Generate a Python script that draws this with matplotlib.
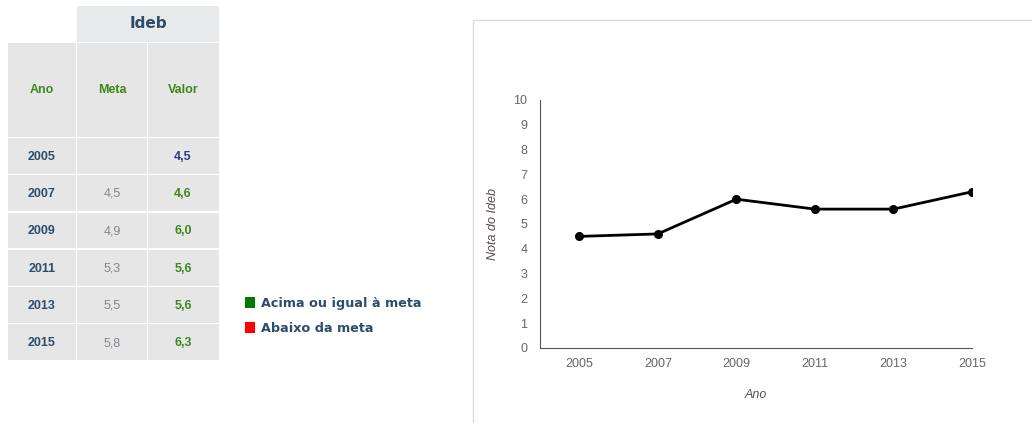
import matplotlib
matplotlib.use("Agg")
import matplotlib.pyplot as plt
from matplotlib.patches import Rectangle

plt.rcParams["font.family"] = ["Liberation Sans", "DejaVu Sans"]

# data
anos = [2005, 2007, 2009, 2011, 2013, 2015]
meta = [None, 4.5, 4.9, 5.3, 5.5, 5.8]
valor = [4.5, 4.6, 6.0, 5.6, 5.6, 6.3]
legenda = ["Acima ou igual à meta", "Abaixo da meta"]

def fmt(v):
    return "" if v is None else f"{v:.1f}".replace(".", ",")

fig = plt.figure(figsize=(10.32, 4.23), dpi=100)
fig.patch.set_facecolor("white")

# pixel canvas for the table / legend / frame
bg = fig.add_axes([0, 0, 1, 1])
bg.set_xlim(0, 1032)
bg.set_ylim(423, 0)
bg.axis("off")

cell = "#e6e6e6"
blue = "#2d4d6d"
green = "#3c8a1c"

# table
cols = [(8, 76), (77, 147), (148, 219)]
bg.add_patch(Rectangle((77, 6), 142, 36, color="#e8e9eb", lw=0))
bg.text(148, 24, "Ideb", ha="center", va="center", fontsize=11, weight="bold",
        color=blue, family="DejaVu Sans")
for (x0, x1), lab in zip(cols, ["Ano", "Meta", "Valor"]):
    bg.add_patch(Rectangle((x0, 43), x1 - x0, 94, color=cell, lw=0))
    bg.text((x0 + x1) / 2, 90, lab, ha="center", va="center", fontsize=9, weight="bold", color=green)

row_h = 37.3
for i, (a, m, v) in enumerate(zip(anos, meta, valor)):
    y0 = 138 + i * row_h
    for x0, x1 in cols:
        bg.add_patch(Rectangle((x0, y0), x1 - x0, row_h - 1.5, color=cell, lw=0))
    yc = y0 + row_h / 2
    bg.text(42, yc, str(a), ha="center", va="center", fontsize=9, weight="bold", color=blue)
    bg.text(112, yc, fmt(m), ha="center", va="center", fontsize=9, color="#7d8790")
    vcol = "#2a3f8a" if m is None else (green if v >= m else "red")
    bg.text(183, yc, fmt(v), ha="center", va="center", fontsize=9, weight="bold", color=vcol)

# legend
for j, (lab, c) in enumerate(zip(legenda, ["#007a00", "#ff0000"])):
    y = 303 + j * 25
    bg.add_patch(Rectangle((245, y - 5.5), 10, 11, color=c, lw=0))
    bg.text(261, y, lab, ha="left", va="center", fontsize=9.2, weight="bold",
            color=blue, family="DejaVu Sans")

# chart frame
bg.plot([473, 473, 1032], [423, 20, 20], color="#dcdcdc", lw=1)

# line chart
ax = fig.add_axes([540 / 1032, 1 - 348 / 423, 432 / 1032, 248 / 423])
ax.plot(anos, valor, color="black", lw=2, marker="o", ms=5.5)
ax.set_xlim(2004, 2015)
ax.set_ylim(0, 10)
ax.set_xticks(anos)
ax.set_yticks(range(0, 11))
ax.spines["top"].set_visible(False)
ax.spines["right"].set_visible(False)
ax.spines["left"].set_color("#555555")
ax.spines["bottom"].set_color("#555555")
ax.tick_params(length=0, labelsize=9, labelcolor="#666666")
ax.tick_params(axis="x", pad=7)
ax.tick_params(axis="y", pad=9)
ax.set_xlabel("Ano", style="italic", fontsize=9, color="#555555", labelpad=14)
ax.set_ylabel("Nota do Ideb", style="italic", fontsize=9, color="#5a4a4a")
ax.yaxis.set_label_coords(-0.095, 0.5)
ax.set_facecolor("none")

fig.savefig("out.png", dpi=100)
